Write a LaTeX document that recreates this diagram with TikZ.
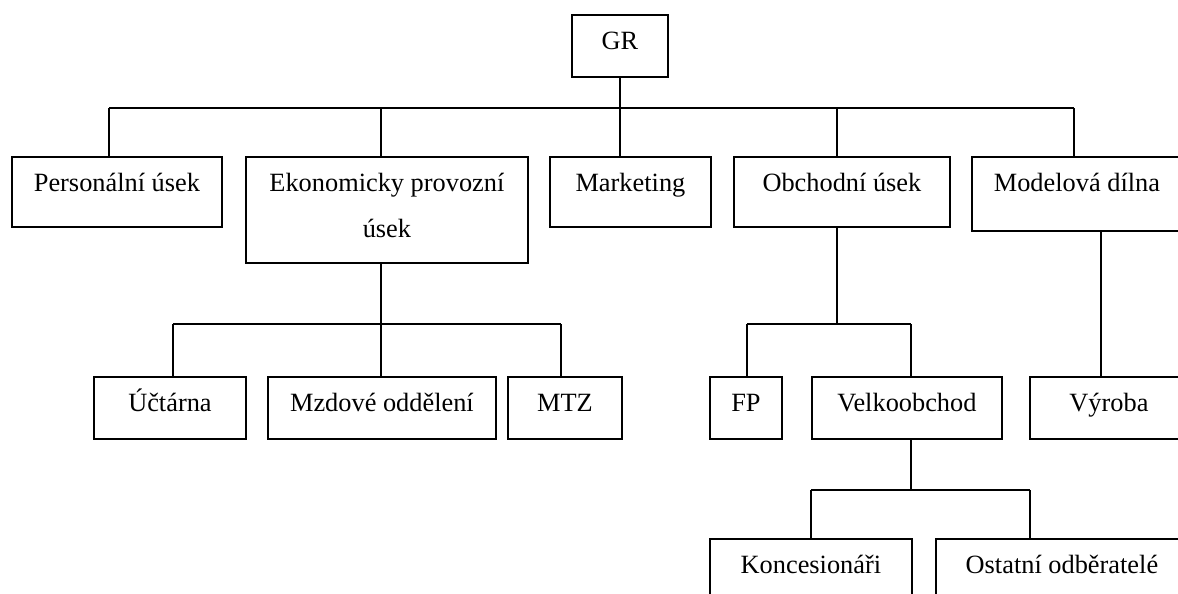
\documentclass[tikz,border=0pt]{standalone}
\usepackage{fontspec}
\setmainfont{Liberation Serif}
\usetikzlibrary{calc}

\begin{document}
\begin{tikzpicture}[x=0.02cm, y=-0.02cm, line width=1.1pt,
    box/.style={draw, inner sep=0pt, anchor=north west, text height=0.7cm, text depth=0.7cm, font=\fontsize{15}{26.2}\selectfont},
    low/.style={text depth=0.54cm}]
    \useasboundingbox (0,0) rectangle (1178,593);
    \clip (0,0) rectangle (1178,593);

    % first level
    \node[box, low, minimum width=1.92cm] (gr) at (571,14) {GR};
    \node[box, minimum width=4.2cm] (pers) at (11,156) {Personální úsek};
    \node[box, text depth=1.42cm, minimum width=5.64cm] (eko) at (245,156)
        {\parbox[t]{5.5cm}{\centering Ekonomicky provozní\\úsek}};
    \node[box, minimum width=3.22cm] (mark) at (549,156) {Marketing};
    \node[box, minimum width=4.32cm] (obch) at (733,156) {Obchodní úsek};
    \node[box, text depth=0.78cm, minimum width=4.2cm] (model) at (971,156) {Modelová dílna};

    % second level
    \node[box, low, minimum width=3.04cm] (ucet) at (93,376) {Účtárna};
    \node[box, low, minimum width=4.56cm] (mzdy) at (267,376) {Mzdové oddělení};
    \node[box, low, minimum width=2.28cm] (mtz) at (507,376) {MTZ};
    \node[box, low, minimum width=1.44cm] (fp) at (709,376) {FP};
    \node[box, low, minimum width=3.8cm] (velk) at (811,376) {Velkoobchod};
    \node[box, low, minimum width=3.16cm] (vyr) at (1029,376) {Výroba};

    % third level
    \node[box, minimum width=4.04cm] (konc) at (709,538) {Koncesionáři};
    \node[box, minimum width=5.04cm] (ost) at (935,538) {Ostatní odběratelé};

    % GR bus
    \coordinate (b1) at (109,108);
    \coordinate (b2) at (381,108);
    \coordinate (b4) at (837,108);
    \coordinate (b5) at (1074,108);
    \draw (b1) -- (b5);
    \draw (gr.south) -- (gr.south |- mark.north);
    \foreach \j/\n in {b1/pers, b2/eko, b4/obch, b5/model}
        \draw (\j) -- (\j |- \n.north);

    % under Ekonomicky provozni usek
    \coordinate (e1) at (173,324);
    \coordinate (e2) at (381,324);
    \coordinate (e3) at (561,324);
    \draw (e1) -- (e3);
    \draw (eko.south -| e2) -- (e2);
    \foreach \j/\n in {e1/ucet, e2/mzdy, e3/mtz}
        \draw (\j) -- (\j |- \n.north);

    % under Obchodni usek
    \coordinate (o1) at (747,324);
    \coordinate (o2) at (911,324);
    \draw (o1) -- (o2);
    \draw (obch.south -| b4) -- (b4 |- o1);
    \foreach \j/\n in {o1/fp, o2/velk}
        \draw (\j) -- (\j |- \n.north);

    % under Velkoobchod
    \coordinate (v1) at (811,490);
    \coordinate (v2) at (1030,490);
    \draw (v1) -- (v2);
    \draw (velk.south -| o2) -- (o2 |- v1);
    \foreach \j/\n in {v1/konc, v2/ost}
        \draw (\j) -- (\j |- \n.north);

    % under Modelova dilna
    \coordinate (m1) at (1101,230);
    \draw (m1) -- (m1 |- vyr.north);
\end{tikzpicture}
\end{document}
